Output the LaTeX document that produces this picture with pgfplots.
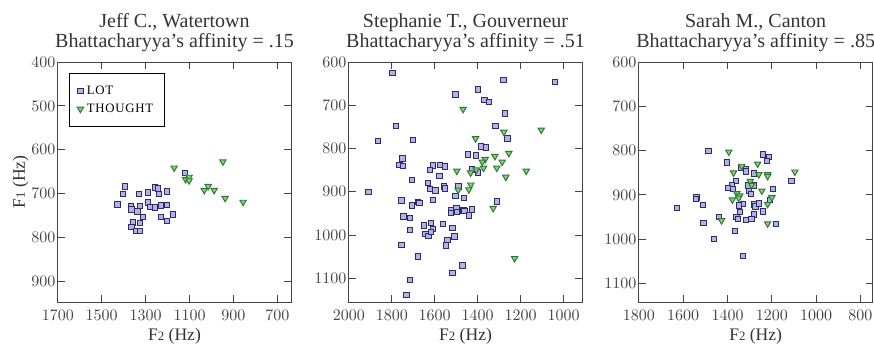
\documentclass[border=0pt]{standalone}
\usepackage[no-math]{fontspec}
\setmainfont{Liberation Serif}
\usepackage{pgfplots}
\pgfplotsset{compat=1.18}
\definecolor{lotfill}{HTML}{B3B3DD}
\definecolor{lotedge}{HTML}{2B2B6F}
\definecolor{thfill}{HTML}{8DCB7E}
\definecolor{thedge}{HTML}{2A7A30}
\definecolor{axgray}{HTML}{444444}
\definecolor{txtgray}{HTML}{333333}
\pgfplotsset{
  panel/.style={
    scale only axis, width=145.9pt, height=150pt,
    x dir=reverse, y dir=reverse,
    axis line style={axgray, line width=0.6pt},
    tick style={axgray, line width=0.6pt},
    tick label style={font=\fontsize{10}{12}\selectfont, text=axgray},
    x tick label style={yshift=-1.6pt},
    y tick label style={xshift=2pt},
    every axis title/.style={at={(0.5,1)}, anchor=south, inner sep=0pt, yshift=6pt,
      align=center, font=\fontsize{12.5}{12.5}\selectfont, text=txtgray},
    every axis x label/.style={at={(0.5,0)}, anchor=base, yshift=-23.75pt,
      font=\fontsize{11}{12}\selectfont, text=txtgray},
    every axis y label/.style={at={(0,0.5)}, xshift=-20.6pt, rotate=90, anchor=base,
      font=\fontsize{11}{12}\selectfont, text=txtgray},
    xlabel={F{\footnotesize 2}\ (Hz)},
    scaled ticks=false,
    /pgf/number format/1000 sep={},
  },
  lot/.style={only marks, mark=square*, mark size=1.7pt,
    mark options={fill=lotfill, draw=lotedge, line width=0.6pt}},
  th/.style={only marks, mark=triangle*, mark size=2.3pt,
    mark options={rotate=180, fill=thfill, draw=thedge, line width=0.6pt}},
}
\begin{document}
\begin{tikzpicture}
\path[use as bounding box] (-36.1pt,-27.5pt) rectangle (510.1pt,188.75pt);
% ---------- Left panel ----------
\begin{axis}[panel,
  xmin=637, xmax=1700, ymin=400, ymax=946.5,
  xtick={1700,1500,1300,1100,900,700},
  ytick={400,500,600,700,800,900},
  title={Jeff C., Watertown\\Bhattacharyya's affinity = .15},
  ylabel={F{\footnotesize 1}\ (Hz)},
  legend style={at={(0.047,0.954)}, anchor=north west, draw=black, line width=0.6pt,
    font=\fontsize{8}{9}\selectfont\addfontfeature{LetterSpace=6}, inner xsep=5pt, inner ysep=5.5pt,
    cells={anchor=west}, row sep=0.5pt},
  legend image code/.code={\draw[mark repeat=2,mark phase=2,#1] plot coordinates {(0cm,0cm) (0.12cm,0cm) (0.24cm,0cm)};},
]
\addplot[lot] coordinates {
(1394,683) (1403,701) (1429,724) (1330,701) (1290,697) (1258,686) (1243,688)
(1240,701) (1203,695) (1121,653) (1367,728) (1364,736) (1326,728) (1338,740)
(1290,720) (1280,730) (1258,731) (1230,727) (1203,726) (1176,747) (1230,753)
(1203,762) (1311,753) (1358,765) (1325,766) (1364,776) (1341,785) (1325,785)
};
\addlegendentry{LOT}
\addplot[th] coordinates {
(1170,641) (948,627) (1118,667) (1102,662) (1102,670) (1033,692) (1015,683)
(988,692) (938,710) (856,719)
};
\addlegendentry{THOUGHT}
\end{axis}
% ---------- Middle panel ----------
\begin{axis}[panel, xshift=181.9pt,
  xmin=913, xmax=2000, ymin=600, ymax=1155,
  xtick={2000,1800,1600,1400,1200,1000},
  ytick={600,700,800,900,1000,1100},
  title={Stephanie T., Gouverneur\\Bhattacharyya's affinity = .51},
]
\addplot[lot] coordinates {
(1797,626) (1280,641) (1039,646) (1503,675) (1399,664) (1368,688) (1348,693)
(1273,719) (1781,748) (1318,748) (1261,777) (1864,782) (1701,780) (1385,795)
(1362,798) (1446,814) (1407,816) (1750,823) (1764,838) (1749,841) (1609,839)
(1575,838) (1553,842) (1623,850) (1426,849) (1398,855) (1578,864) (1705,873)
(1631,880) (1623,893) (1597,897) (1557,888) (1553,892) (1489,888) (1503,910)
(1463,914) (1909,900) (1755,920) (1705,932) (1677,924) (1671,926) (1607,919)
(1311,923) (1746,957) (1715,961) (1525,943) (1525,949) (1499,939) (1497,947)
(1466,943) (1461,945) (1440,955) (1426,941) (1649,978) (1618,972) (1607,986)
(1643,998) (1629,1002) (1618,993) (1562,975) (1517,984) (1508,1003) (1541,1012)
(1548,1024) (1715,989) (1755,1023) (1677,1050) (1471,1070) (1517,1088)
(1715,1104) (1732,1139)
};
\addplot[th] coordinates {
(1468,709) (1104,757) (1278,762) (1410,777) (1255,811) (1320,818) (1365,825)
(1286,831) (1379,831) (1311,845) (1373,845) (1407,849) (1497,852) (1433,856)
(1174,852) (1269,866) (1432,884) (1441,895) (1491,896) (1328,938) (1228,1054)
};
\end{axis}
% ---------- Right panel ----------
\begin{axis}[panel, xshift=363.2pt,
  xmin=746, xmax=1800, ymin=600, ymax=1142,
  xtick={1800,1600,1400,1200,1000,800},
  ytick={600,700,800,900,1000,1100},
  title={Sarah M., Canton\\Bhattacharyya's affinity = .85},
]
\addplot[lot] coordinates {
(1487,801) (1403,827) (1240,809) (1213,815) (1222,824) (1337,839) (1316,842)
(1318,847) (1280,852) (1112,869) (1361,869) (1381,879) (1397,885) (1376,887)
(1307,879) (1280,879) (1195,887) (1304,891) (1295,898) (1540,906) (1543,909)
(1628,930) (1511,923) (1330,921) (1348,924) (1280,922) (1273,926) (1258,919)
(1208,911) (1240,938) (1343,939) (1280,944) (1439,950) (1360,950) (1352,955)
(1316,957) (1291,955) (1508,964) (1181,966) (1366,981) (1460,1000) (1330,1038)
};
\addplot[th] coordinates {
(1394,803) (1336,835) (1264,830) (1373,850) (1259,854) (1219,854) (1219,858)
(1096,848) (1297,869) (1291,878) (1245,891) (1358,897) (1345,902) (1350,907)
(1378,911) (1200,906) (1219,921) (1427,958) (1219,965)
};
\end{axis}
\end{tikzpicture}
\end{document}
